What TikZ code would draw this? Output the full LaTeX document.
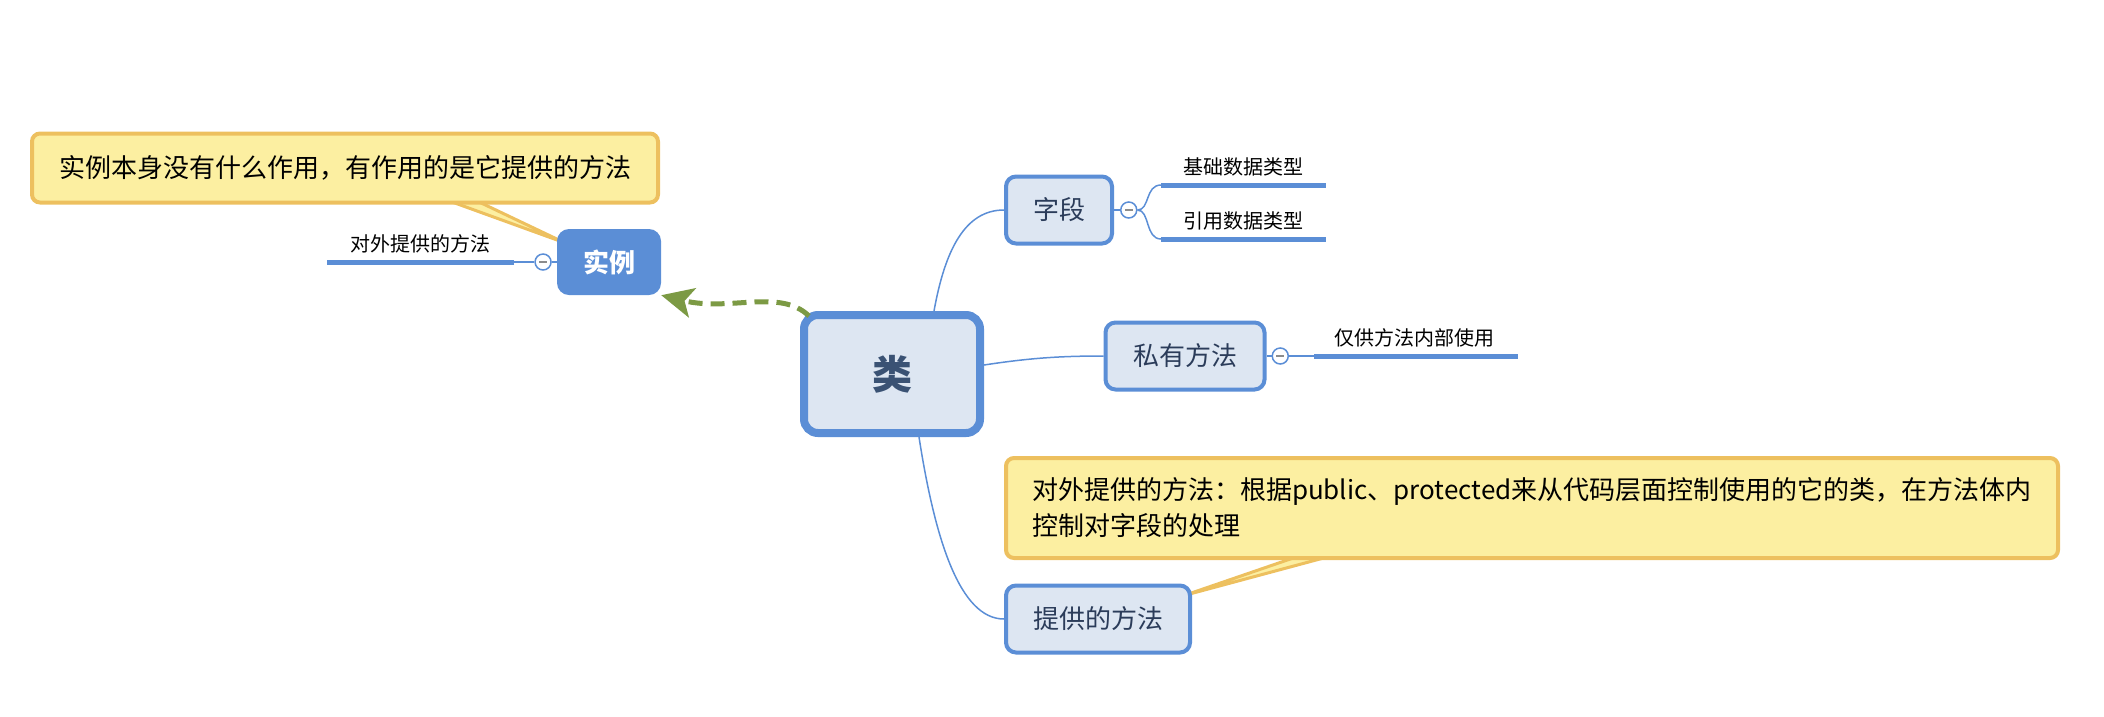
\documentclass[tikz,border=0pt]{standalone}
\usepackage{fontspec}
\setmainfont{Noto Sans CJK SC}
\usetikzlibrary{arrows.meta,positioning,backgrounds}
\definecolor{topicblue}{HTML}{5B8ED6}
\definecolor{topicfill}{HTML}{DDE6F2}
\definecolor{topictext}{HTML}{2B3C5A}
\definecolor{centraltext}{HTML}{3A5274}
\definecolor{notefill}{HTML}{FCEFA1}
\definecolor{noteedge}{HTML}{EDC05F}
\definecolor{linkgreen}{HTML}{7C9A44}

\begin{document}
\begin{tikzpicture}[x=1pt, y=-1pt,
  central/.style={draw=topicblue, line width=8pt, rounded corners=14pt, fill=topicfill, minimum width=176pt, minimum height=118pt, font=\fontsize{40}{48}\selectfont\bfseries, text=centraltext},
  subtopic/.style={draw=topicblue, line width=4pt, rounded corners=10pt, fill=topicfill, minimum height=67pt, inner xsep=0pt, font=\fontsize{26}{32}\selectfont, text=topictext},
  floating/.style={fill=topicblue, rounded corners=12pt, minimum width=104pt, minimum height=66pt, font=\fontsize{26}{32}\selectfont\bfseries, text=white},
  note/.style={draw=noteedge, line width=4pt, rounded corners=8pt, fill=notefill, font=\fontsize{26}{36}\selectfont, text=black},
  leaf/.style={font=\fontsize{20}{24}\selectfont, text=black, inner sep=0pt},
  fold/.style={circle, draw=topicblue, line width=1.5pt, fill=white, minimum size=16pt, inner sep=0pt, path picture={\draw[black!45, line width=1.5pt] ([xshift=-4pt]path picture bounding box.center) -- ([xshift=4pt]path picture bounding box.center);}},
  conn/.style={topicblue, line width=1.5pt},
  leafline/.style={topicblue, line width=5pt},
  pointer/.style={fill=notefill, draw=noteedge, line width=3pt, line join=round},
  relation/.style={linkgreen, line width=5pt, dash pattern=on 14pt off 8pt, -{Stealth[length=32pt, width=30pt, inset=8pt]}}
]
  \useasboundingbox (0,0) rectangle (2104,716);

  \node[central] (cls) at (892,374) {类};
  \node[subtopic, minimum width=106pt] (field) at (1059,210) {字段};
  \node[subtopic, minimum width=159pt] (private) at (1185,356) {私有方法};
  \node[subtopic, minimum width=184pt] (public) at (1098,619) {提供的方法};
  \node[floating] (inst) at (609,262) {实例};

  \node[fold, left=5pt of inst] (instfold) {};
  \node[fold, right=6pt of field] (fieldfold) {};
  \node[fold, right=5pt of private] (privfold) {};

  \coordinate (instmid) at (514,262);
  \coordinate (instend) at (327,262);
  \coordinate (outermid) at (420,262);
  \coordinate (basicstart) at (1161,185);
  \coordinate (basicend) at (1326,185);
  \coordinate (basicmid) at (1243,185);
  \coordinate (refstart) at (1161,239);
  \coordinate (refend) at (1326,239);
  \coordinate (refmid) at (1243,239);
  \coordinate (privstart) at (1314,356);
  \coordinate (privend) at (1518,356);
  \coordinate (privmid) at (1414,356);

  \node[leaf, above=9pt of outermid] (outer) {对外提供的方法};
  \node[leaf, above=9pt of basicmid] (basic) {基础数据类型};
  \node[leaf, above=9pt of refmid] (ref) {引用数据类型};
  \node[leaf, above=9pt of privmid] (internal) {仅供方法内部使用};

  \node[note, minimum width=626pt, minimum height=69pt] (instnote) at (345,168) {实例本身没有什么作用，有作用的是它提供的方法};
  \node[note, text width=1000pt, inner xsep=26pt, minimum height=100pt, align=left] (pubnote) at (1532,508) {对外提供的方法：根据public、protected来从代码层面控制使用的它的类，在方法体内\\控制对字段的处理};

  \begin{scope}[on background layer]
    \draw[pointer] ([xshift=418pt, yshift=4pt]instnote.south west) -- ([xshift=8pt, yshift=-14pt]inst.north west) -- ([xshift=446pt, yshift=4pt]instnote.south west);
    \draw[pointer] ([xshift=295pt, yshift=4pt]pubnote.south west) -- ([xshift=-8pt, yshift=-12pt]public.north east) -- ([xshift=327pt, yshift=4pt]pubnote.south west);
  \end{scope}

  \draw[conn] ([xshift=42pt]cls.north) .. controls (945,250) and (965,210) .. (field.west);
  \draw[conn] ([yshift=9pt]cls.east) .. controls (1030,358) and (1060,356) .. (private.west);
  \draw[conn] ([xshift=27pt]cls.south) .. controls (935,540) and (960,619) .. (public.west);

  \draw[conn] (inst) -- (instfold);
  \draw[conn] (instfold) -- (instmid);
  \draw[leafline] (instmid) -- (instend);

  \draw[conn] (field) -- (fieldfold);
  \draw[conn] (fieldfold.east) .. controls (1150,210) and (1145,185) .. (basicstart);
  \draw[conn] (fieldfold.east) .. controls (1150,210) and (1145,239) .. (refstart);
  \draw[leafline] (basicstart) -- (basicend);
  \draw[leafline] (refstart) -- (refend);

  \draw[conn] (private) -- (privfold);
  \draw[conn] (privfold) -- (privstart);
  \draw[leafline] (privstart) -- (privend);

  \draw[relation] ([xshift=9pt, yshift=-5pt]cls.north west) .. controls (780,288) and (730,312) .. (inst.south east);
\end{tikzpicture}
\end{document}
